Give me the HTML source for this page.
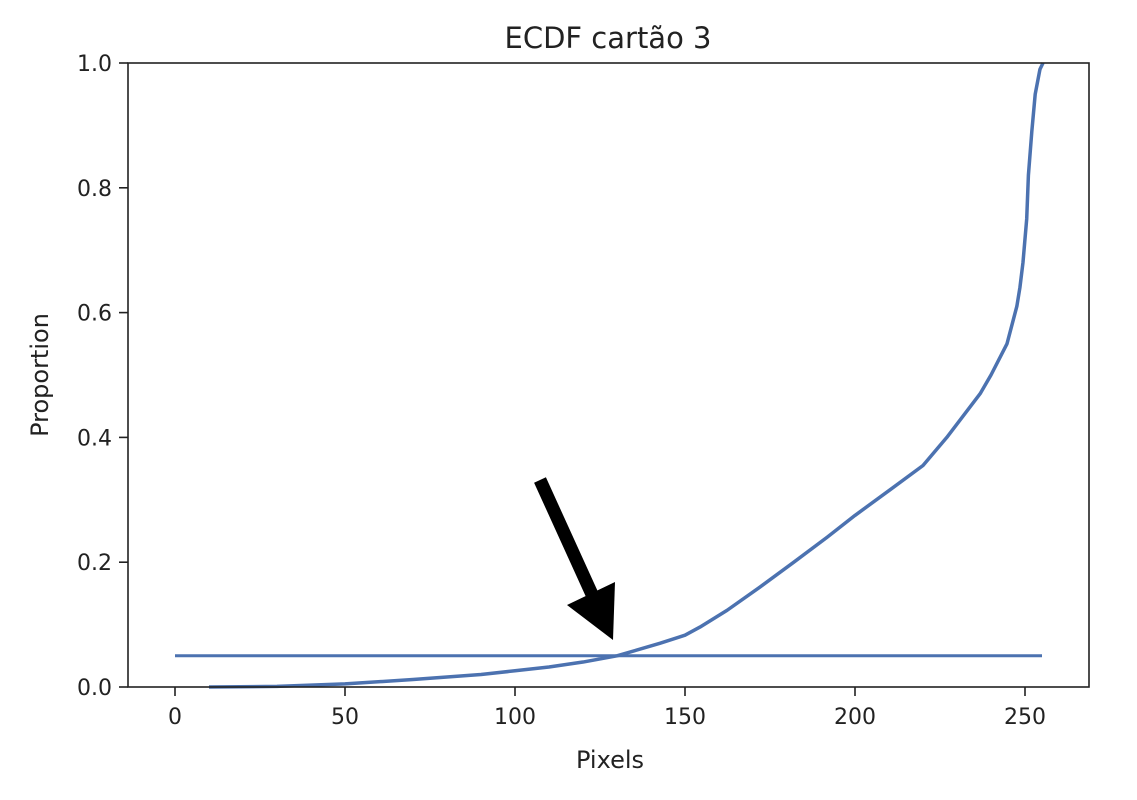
<!DOCTYPE html>
<html><head><meta charset="utf-8"><style>
body{margin:0;background:#fff;width:1137px;height:795px;overflow:hidden}
text{font-family:"DejaVu Sans","Liberation Sans",sans-serif;fill:#222}
</style></head><body>
<svg id="chart" width="1137" height="795" xmlns="http://www.w3.org/2000/svg">
<text x="608" y="48" font-size="29" text-anchor="middle">ECDF cartão 3</text>
<g id="plot"></g>
<rect x="128" y="63" width="961" height="624" fill="none" stroke="#222" stroke-width="1.6"/>
<text x="610" y="768" font-size="24" text-anchor="middle">Pixels</text>
<text transform="translate(48,375) rotate(-90)" font-size="24" text-anchor="middle">Proportion</text>
<g>
<line x1="540" y1="480" x2="600" y2="612" stroke="#000" stroke-width="13"/>
<polygon points="567,605 615,582 613,640" fill="#000"/>
</g>
</svg>
<script>
const xTicks=[0,50,100,150,200,250];
const yTicks=[0.0,0.2,0.4,0.6,0.8,1.0];
const curveX=[10,30,50,70,90,100,110,120,130,142.6,150,154.4,162.4,172,182,191.8,200,210.3,220,227,236.8,240,244.7,247.6,248.5,249.4,250.5,251,252,253,254.4,255.3];
const curveY=[0,0.001,0.005,0.012,0.02,0.026,0.032,0.04,0.05,0.07,0.083,0.096,0.123,0.16,0.2,0.24,0.275,0.316,0.355,0.4,0.47,0.5,0.55,0.61,0.64,0.68,0.75,0.82,0.89,0.95,0.99,1.0];
const threshold=0.05, thrStart=0, thrEnd=255;
const X=v=>175+v*3.4, Y=v=>687-v*624;
const ns="http://www.w3.org/2000/svg", g=document.getElementById('plot');
function mk(t,a){const e=document.createElementNS(ns,t);for(const k in a)e.setAttribute(k,a[k]);g.appendChild(e);return e;}
xTicks.forEach(t=>{
 const l=mk('line',{x1:X(t),x2:X(t),y1:687,y2:696,stroke:'#222','stroke-width':1.6});
 
 
 const s=mk('text',{x:X(t),y:724,'font-size':22,'text-anchor':'middle'});s.textContent=t;
 
 
});
yTicks.forEach(t=>{
 const l=mk('line',{x1:119,x2:128,y1:Y(t),y2:Y(t),stroke:'#222','stroke-width':1.6});
 
 
 const s=mk('text',{x:112,y:Y(t)+8,'font-size':22,'text-anchor':'end'});s.textContent=t.toFixed(1);
 
 
});
const h=mk('line',{x1:X(thrStart),x2:X(thrEnd),y1:Y(threshold),y2:Y(threshold),stroke:'#4c72b0','stroke-width':3});


let d='';curveX.forEach((v,i)=>{d+=(i?'L':'M')+X(v)+','+Y(curveY[i]);});
const p=mk('path',{d:d,fill:'none',stroke:'#4c72b0','stroke-width':3.5,'stroke-linejoin':'round'});


</script>
</body></html>
